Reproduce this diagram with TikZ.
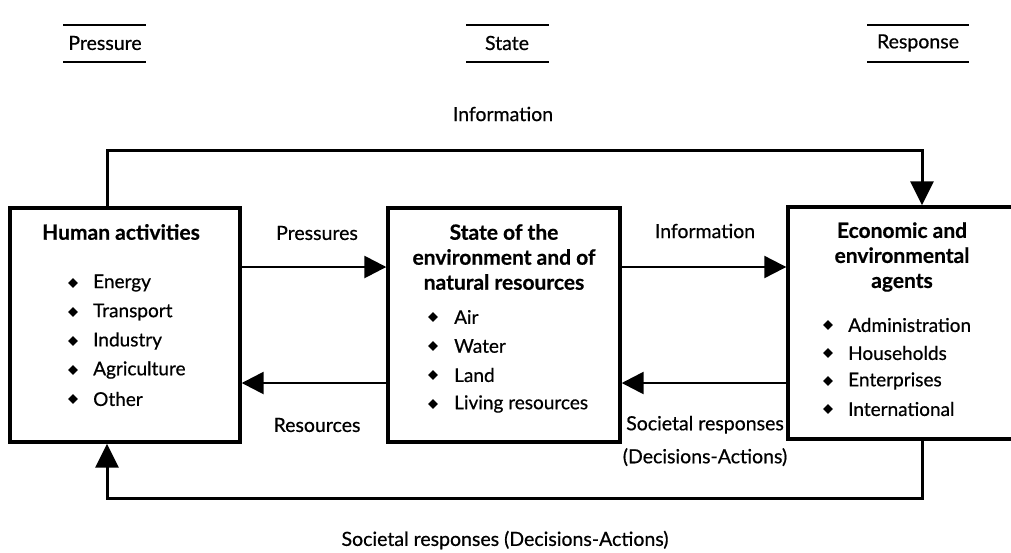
\documentclass[tikz,border=0pt]{standalone}
\usepackage{fontspec}
\setmainfont{Lato}[UprightFeatures={FakeBold=0.6},BoldFeatures={FakeBold=0.6}]
\usetikzlibrary{arrows.meta,shapes.geometric}
\begin{document}
\begin{tikzpicture}[x=1pt,y=-1pt,
  box/.style={draw, line width=3.4pt, inner sep=0pt},
  flow/.style={line width=2.6pt, -{Triangle[length=22pt,width=22pt]}},
  loop/.style={line width=3pt, -{Triangle[length=24pt,width=23pt]}},
  head/.style={font=\fontsize{19.5}{22}\selectfont, inner sep=1pt},
  rule/.style={line width=2.2pt},
  lbl/.style={font=\fontsize{19.5}{22}\selectfont, inner sep=1pt},
  ttl/.style={font=\fontsize{21}{25}\bfseries, align=center, inner sep=0pt},
  itm/.style={font=\fontsize{19}{22}\selectfont, anchor=west, inner sep=0pt},
  dot/.style={diamond, fill, inner sep=0pt, minimum size=10pt}]
\useasboundingbox (0,0) rectangle (1011,552);

% column headings with rules above and below
\node[head] (hP) at (105,43) {Pressure};
\node[head] (hS) at (507,43) {State};
\node[head] (hR) at (918,43) {Response};
\draw[rule] (63,25) -- (146,25) (63,62) -- (146,62);
\draw[rule] (466,25) -- (549,25) (466,62) -- (549,62);
\draw[rule] (867,25) -- (969,25) (867,62) -- (969,62);

% the three boxes
\node[box, minimum width=230pt, minimum height=234pt] (hum) at (125,325) {};
\node[box, minimum width=232pt, minimum height=234pt] (env) at (504,325) {};
\node[box, minimum width=228pt, minimum height=232pt] (agt) at (902,323) {};

% box contents
\node[ttl] (t1) at (121,232) {Human activities};
\foreach \t [count=\i] in {Energy,Transport,Industry,Agriculture,Other}{
  \node[dot] (d1\i) at (73,{254+29*\i}) {};
  \node[itm] (i1\i) at (93,{254+29*\i}) {\t};
}
\node[ttl] (t2) at (504,257) {State of the\\environment and of\\natural resources};
\foreach \t [count=\i] in {Air,Water,Land,Living resources}{
  \node[dot] (d2\i) at (433,{288+29*\i}) {};
  \node[itm] (i2\i) at (454,{288+29*\i}) {\t};
}
\node[ttl] (t3) at (902,257) {Economic and\\environmental\\agents};
\foreach \t [count=\i] in {Administration,Households,Enterprises,International}{
  \node[dot] (d3\i) at (828,{297+28*\i}) {};
  \node[itm] (i3\i) at (848,{297+28*\i}) {\t};
}

% rows on which the short flows run
\coordinate (rowA) at (0,267);
\coordinate (rowB) at (0,383);

% flows between neighbouring boxes
\draw[flow] (hum.east |- rowA) -- (env.west |- rowA);
\draw[flow] (env.west |- rowB) -- (hum.east |- rowB);
\draw[flow, line width=2.2pt] (env.east |- rowA) -- (agt.west |- rowA);
\draw[flow] (agt.west |- rowB) -- (env.east |- rowB);

\node[lbl] (lP) at (317,233) {Pressures};
\node[lbl] (lR) at (317,425) {Resources};
\node[lbl] (lI) at (705,231) {Information};
\node[lbl, align=center, font=\fontsize{19.5}{33}\selectfont] (lS) at (705,441) {Societal responses\\(Decisions-Actions)};

% outer loops
\draw[loop] ([xshift=-18pt]hum.north) -- ++(0,-56) -| ([xshift=20pt]agt.north);
\draw[loop] ([xshift=20pt]agt.south) -- ++(0,58) -| ([xshift=-18pt]hum.south);
\node[lbl] (lTop) at (503,114) {Information};
\node[lbl] (lBot) at (505,540) {Societal responses (Decisions-Actions)};
\end{tikzpicture}
\end{document}
